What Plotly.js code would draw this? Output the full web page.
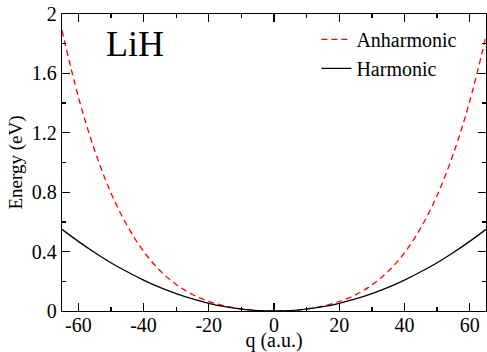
<!DOCTYPE html>
<html>
<head>
<meta charset="utf-8">
<script src="https://cdn.plot.ly/plotly-3.0.1.min.js"></script>
<style>html,body{margin:0;padding:0;background:#fff}#chart{width:487px;height:352px}</style>
</head>
<body>
<div id="chart"></div>
<script>
// q in atomic units
const q = [-65,-60,-55,-50,-45,-40,-35,-30,-25,-20,-15,-10,-5,0,5,10,15,20,25,30,35,40,45,50,55,60,65];
// Energies (eV)
const anharmonic = [1.89,1.443,1.083,0.796,0.574,0.402,0.273,0.179,0.111,0.065,0.033,0.014,0.003,0,0.003,0.014,0.033,0.064,0.109,0.175,0.267,0.392,0.560,0.778,1.059,1.411,1.85];
const harmonic = [0.55,0.469,0.394,0.325,0.264,0.208,0.159,0.117,0.081,0.052,0.029,0.013,0.003,0,0.003,0.013,0.029,0.052,0.081,0.117,0.159,0.208,0.264,0.325,0.394,0.469,0.55];
const xTickVals = [-60,-40,-20,0,20,40,60];
const xTickText = ["-60","-40","-20","0","20","40","60"];
const yTickVals = [0,0.4,0.8,1.2,1.6,2];
const yTickText = ["0","0.4","0.8","1.2","1.6","2"];
const seriesNames = ["Anharmonic","Harmonic"];
const labelText = "LiH";

const font = "Liberation Serif";
const traces = [
  {x:q, y:anharmonic, name:seriesNames[0], mode:"lines", line:{color:"#ff0000", width:1.3, dash:"6px,4px", shape:"spline"}},
  {x:q, y:harmonic, name:seriesNames[1], mode:"lines", line:{color:"#000000", width:1.3, shape:"spline"}}
];
const axisCommon = {
  showgrid:false, zeroline:false, showline:true, linecolor:"#000", linewidth:1.3,
  mirror:"ticks", ticks:"inside", ticklen:8, tickwidth:1.3, tickcolor:"#000",
  tickfont:{family:font, size:20, color:"#000"}, tickmode:"array"
};
const layout = {
  width:487, height:352,
  margin:{l:62, r:1, t:14, b:41},
  paper_bgcolor:"#fff", plot_bgcolor:"#fff",
  font:{family:font, color:"#000"},
  showlegend:true,
  legend:{x:0.6, y:0.98, xanchor:"left", yanchor:"top", bgcolor:"rgba(0,0,0,0)", borderwidth:0,
          font:{family:font, size:20, color:"#000"}, tracegroupgap:0},
  xaxis:Object.assign({}, axisCommon, {
    range:[-65,65], tickvals:xTickVals, ticktext:xTickText, ticklabelstandoff:-4,
    minor:{tickmode:"linear", tick0:0, dtick:10, ticks:"inside", ticklen:4, tickwidth:1.3, tickcolor:"#000"},
    title:{text:"q (a.u.)", font:{family:font, size:20, color:"#000"}, standoff:0}
  }),
  yaxis:Object.assign({}, axisCommon, {
    range:[0,2], tickvals:yTickVals, ticktext:yTickText,
    minor:{tickmode:"linear", tick0:0, dtick:0.2, ticks:"inside", ticklen:4, tickwidth:1.3, tickcolor:"#000"},
    title:{text:"Energy (eV)", font:{family:font, size:19, color:"#000"}, standoff:4}
  }),
  annotations:[{text:labelText, xref:"paper", yref:"paper", x:0.1, y:0.9, xanchor:"left", yanchor:"middle",
    showarrow:false, font:{family:font, size:36, color:"#000"}}]
};
Plotly.newPlot("chart", traces, layout, {displayModeBar:false, staticPlot:true});
</script>
</body>
</html>
